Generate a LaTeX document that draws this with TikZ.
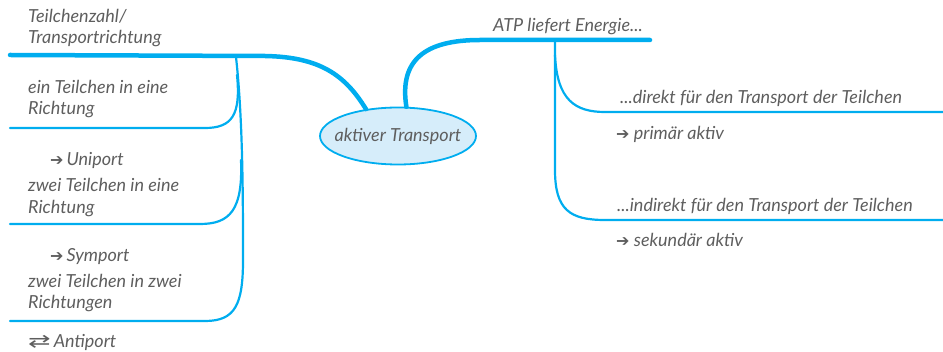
\documentclass[tikz,border=0pt]{standalone}
\usepackage{fontspec}
\setmainfont{Lato}
\newfontfamily\symfont{DejaVu Sans}
\usetikzlibrary{shapes.geometric}
\definecolor{mblue}{HTML}{00ADEF}
\definecolor{ellfill}{HTML}{D6EDFA}
\definecolor{txt}{HTML}{5E5E5E}
\newcommand{\rarr}{{\symfont\upshape\fontsize{16}{14}\selectfont ➔}}
\begin{document}
\begin{tikzpicture}[x=1pt,y=-1pt,
  lbl/.style={anchor=west,inner sep=0pt,text=txt,font=\fontsize{18}{20}\selectfont\itshape},
  thickbr/.style={draw=mblue,line width=4.5pt,line cap=round},
  thinbr/.style={draw=mblue,line width=2.2pt,line cap=round}]
\useasboundingbox (0,0) rectangle (943,352);
\node[ellipse,draw=mblue,line width=1.8pt,fill=ellfill,minimum width=156pt,minimum height=57pt,inner sep=0pt] (root) at (398,136) {};
\node[inner sep=0pt,text=txt,font=\fontsize{18}{20}\selectfont\itshape] (rootlbl) at (root.center) {aktiver Transport};
% left
\coordinate (lend) at (10,55);
\coordinate (sA) at (236,57);
\draw[thickbr] (root.140) .. controls (345,75) and (320,57) .. (265,56) -- (lend);
\coordinate (b1) at (10,128);
\coordinate (b2) at (10,224);
\coordinate (b3) at (10,321);
\draw[thinbr] (sA) .. controls (243,120) and (243,200) .. (243,260) .. controls (243,305) and (235,321) .. (205,321) -- (b3);
\draw[thinbr] (237,75) .. controls (241,115) and (232,128) .. (205,128) -- (b1);
\draw[thinbr] (241,160) .. controls (243,210) and (230,224) .. (200,224) -- (b2);
% right
\coordinate (rend) at (650,40);
\coordinate (rs) at (555,40);
\coordinate (r1) at (943,112);
\coordinate (r2) at (943,220);
\draw[thickbr] (root.74) .. controls (399,60) and (425,40) .. (480,40) -- (rend);
\draw[thinbr] (rs) -- (555,170) .. controls (555,210) and (570,220) .. (605,220) -- (r2);
\draw[thinbr] (555,55) .. controls (557,100) and (575,112) .. (605,112) -- (r1);
% left texts
\node[lbl] (t1) at (28,16) {Teilchenzahl/};
\node[lbl] (t2) at (28,39) {Transportrichtung};
\node[lbl] (t3) at (28,87) {ein Teilchen in eine};
\node[lbl] (t4) at (28,110) {Richtung};
\node[lbl] (t5) at (50,160) {\rarr\,Uniport};
\node[lbl] (t6) at (28,185) {zwei Teilchen in eine};
\node[lbl] (t7) at (28,209) {Richtung};
\node[lbl] (t8) at (50,257) {\rarr\,Symport};
\node[lbl] (t9) at (28,281) {zwei Teilchen in zwei};
\node[lbl] (t10) at (28,304) {Richtungen};
\node[lbl] (t11) at (28,342) {{\symfont\upshape\fontsize{18}{14}\selectfont\scalebox{1.5}[1]{⇄}}\,Antiport};
% right texts
\node[lbl] (u1) at (493,27) {ATP liefert Energie...};
\node[lbl] (u2) at (620,98) {...direkt für den Transport der Teilchen};
\node[lbl] (u3) at (616,134) {\rarr\ primär aktiv};
\node[lbl] (u4) at (617,206) {...indirekt für den Transport der Teilchen};
\node[lbl] (u5) at (616,240) {\rarr\ sekundär aktiv};
\end{tikzpicture}
\end{document}
